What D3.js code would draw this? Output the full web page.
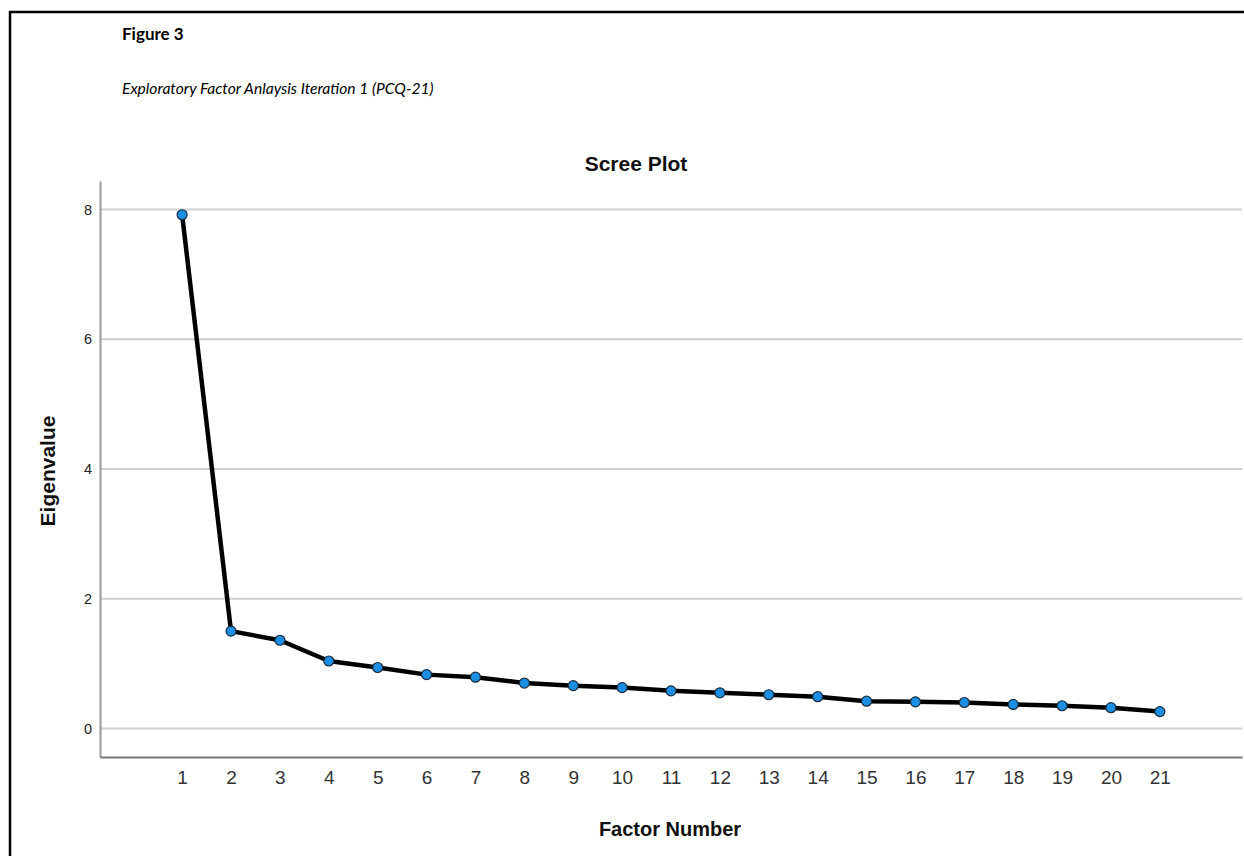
<!DOCTYPE html>
<html>
<head>
<meta charset="utf-8">
<script src="https://cdn.jsdelivr.net/npm/d3@7"></script>
<style>
  body { margin: 0; background: #fff; }
  svg { display: block; }
</style>
</head>
<body>
<div id="chart"></div>
<script>
// Scree plot data
const factors = d3.range(1, 22);
const eigenvalues = [7.92, 1.50, 1.36, 1.04, 0.94, 0.83, 0.79, 0.70, 0.66, 0.63,
                     0.58, 0.55, 0.52, 0.49, 0.42, 0.41, 0.40, 0.37, 0.35, 0.32, 0.26];
const yTicks = [0, 2, 4, 6, 8];

const figureLabel = "Figure 3";
const figureCaption = "Exploratory Factor Anlaysis Iteration 1 (PCQ-21)";
const chartTitle = "Scree Plot";
const xTitle = "Factor Number";
const yTitle = "Eigenvalue";

const width = 1244, height = 856;
const svg = d3.select("#chart").append("svg")
  .attr("width", width)
  .attr("height", height);

// page frame (left + top rule of the document box)
svg.append("line").attr("x1", 10).attr("x2", 10).attr("y1", 11).attr("y2", height)
  .attr("stroke", "#000").attr("stroke-width", 2.5);
svg.append("line").attr("x1", 9).attr("x2", width).attr("y1", 12).attr("y2", 12)
  .attr("stroke", "#000").attr("stroke-width", 2.5);

// APA style heading
svg.append("text").attr("x", 122).attr("y", 40)
  .attr("font-family", "Lato, 'Open Sans', sans-serif")
  .attr("font-weight", "bold").attr("font-size", 17)
  .text(figureLabel);
svg.append("text").attr("x", 122).attr("y", 94)
  .attr("font-family", "Lato, 'Open Sans', sans-serif")
  .attr("font-style", "italic").attr("font-size", 15.6)
  .text(figureCaption);

// plot area
const plot = { left: 100, right: 1242, top: 181, bottom: 757 };

const x = d3.scalePoint()
  .domain(factors)
  .range([plot.left, plot.right])
  .padding(1.68);

const y = d3.scaleLinear()
  .domain([-0.44, 8.44])
  .range([plot.bottom, plot.top]);

const font = "'Liberation Sans', Arial, sans-serif";

// title
svg.append("text")
  .attr("x", 636).attr("y", 171)
  .attr("text-anchor", "middle")
  .attr("font-family", font).attr("font-weight", "bold").attr("font-size", 21)
  .attr("fill", "#111")
  .text(chartTitle);

// horizontal grid lines
svg.append("g").selectAll("line")
  .data(yTicks)
  .join("line")
  .attr("x1", plot.left).attr("x2", plot.right)
  .attr("y1", d => y(d)).attr("y2", d => y(d))
  .attr("stroke", "#cfcfcf").attr("stroke-width", 2);

// y axis
const yAxis = svg.append("g")
  .attr("transform", `translate(${plot.left},0)`)
  .call(d3.axisLeft(y).tickValues(yTicks).tickSize(0).tickPadding(8));
yAxis.select(".domain").attr("stroke", "#9a9a9a").attr("stroke-width", 2);
yAxis.selectAll("text")
  .attr("font-family", font).attr("font-size", 14.5)
  .attr("fill", "#222");

// x axis
const xAxis = svg.append("g")
  .attr("transform", `translate(0,${plot.bottom})`)
  .call(d3.axisBottom(x).tickSize(0).tickPadding(14));
xAxis.select(".domain").attr("stroke", "#777").attr("stroke-width", 2);
xAxis.selectAll("text")
  .attr("font-family", font).attr("font-size", 19)
  .attr("fill", "#333");

// axis titles
svg.append("text")
  .attr("x", 670).attr("y", 836)
  .attr("text-anchor", "middle")
  .attr("font-family", font).attr("font-weight", "bold").attr("font-size", 20)
  .attr("fill", "#111")
  .text(xTitle);
svg.append("text")
  .attr("transform", `translate(55,${(plot.top + plot.bottom) / 2 + 2}) rotate(-90)`)
  .attr("text-anchor", "middle")
  .attr("font-family", font).attr("font-weight", "bold").attr("font-size", 21)
  .attr("fill", "#111")
  .text(yTitle);

// line + markers
const pts = factors.map((f, i) => ({ f, v: eigenvalues[i] }));
svg.append("path")
  .datum(pts)
  .attr("fill", "none")
  .attr("stroke", "#000")
  .attr("stroke-width", 4.5)
  .attr("stroke-linejoin", "round")
  .attr("d", d3.line().x(d => x(d.f)).y(d => y(d.v)));

svg.append("g").selectAll("circle")
  .data(pts)
  .join("circle")
  .attr("cx", d => x(d.f))
  .attr("cy", d => y(d.v))
  .attr("r", 5)
  .attr("fill", "#1a8fe3")
  .attr("stroke", "#1b2a3a")
  .attr("stroke-width", 1.2);
</script>
</body>
</html>
